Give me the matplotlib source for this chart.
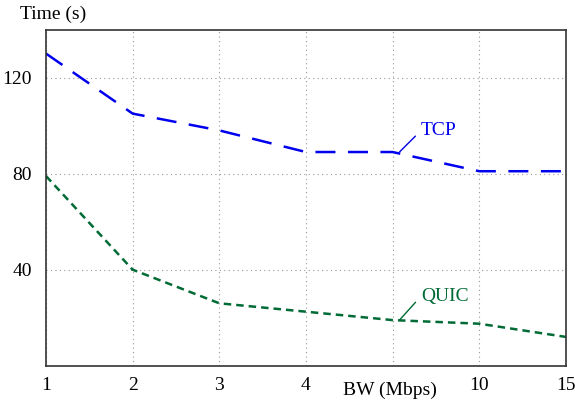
import matplotlib
matplotlib.use("Agg")
import matplotlib.pyplot as plt

bw_labels = ["1", "2", "3", "4", "5", "10", "15"]
tcp_time = [130, 105, 98, 89, 89, 81, 81]
quic_time = [79, 40, 26, 22.5, 19, 17.5, 12]

plt.rcParams["font.family"] = ["Liberation Serif", "DejaVu Serif"]
plt.rcParams["font.size"] = 14

fig = plt.figure(figsize=(5.75, 4.05), dpi=100)
ax = fig.add_axes([0.08, 0.097, 0.904, 0.83])
x = list(range(len(bw_labels)))

ax.plot(x, tcp_time, color="#0000ee", lw=1.8, dashes=(8, 5))
ax.plot(x, quic_time, color="#006b35", lw=1.8, dashes=(3, 2))

ax.set_xlim(0, len(bw_labels) - 1)
ax.set_ylim(0, 140)
ax.set_xticks(x)
# the "5" label is covered by the axis title in the original
ax.set_xticklabels([lab if lab != "5" else "" for lab in bw_labels])
ax.set_yticks([40, 80, 120])
ax.tick_params(axis="y", length=0, pad=10)
ax.tick_params(axis="x", length=0, pad=8)
ax.grid(True, linestyle=(0, (1, 3)), color="#999999", lw=0.8)
for s in ax.spines.values():
    s.set_color("#333333")
    s.set_linewidth(1.2)

ax.annotate("TCP", xy=(4.08, tcp_time[4]), xytext=(4.33, 98),
            color="#0000ee", fontsize=14, ha="left", va="center",
            arrowprops=dict(arrowstyle="-", color="#0000ee", lw=1,
                            relpos=(0, 0.5), shrinkA=3, shrinkB=0))
ax.annotate("QUIC", xy=(4.08, quic_time[4]), xytext=(4.33, 29),
            color="#006b35", fontsize=14, ha="left", va="center",
            arrowprops=dict(arrowstyle="-", color="#006b35", lw=1,
                            relpos=(0, 0.5), shrinkA=3, shrinkB=0))

fig.text(0.035, 0.965, "Time (s)", fontsize=14, va="center")
fig.text(0.678, 0.036, "BW (Mbps)", fontsize=14, ha="center", va="center")

fig.savefig("out.png", dpi=100)
